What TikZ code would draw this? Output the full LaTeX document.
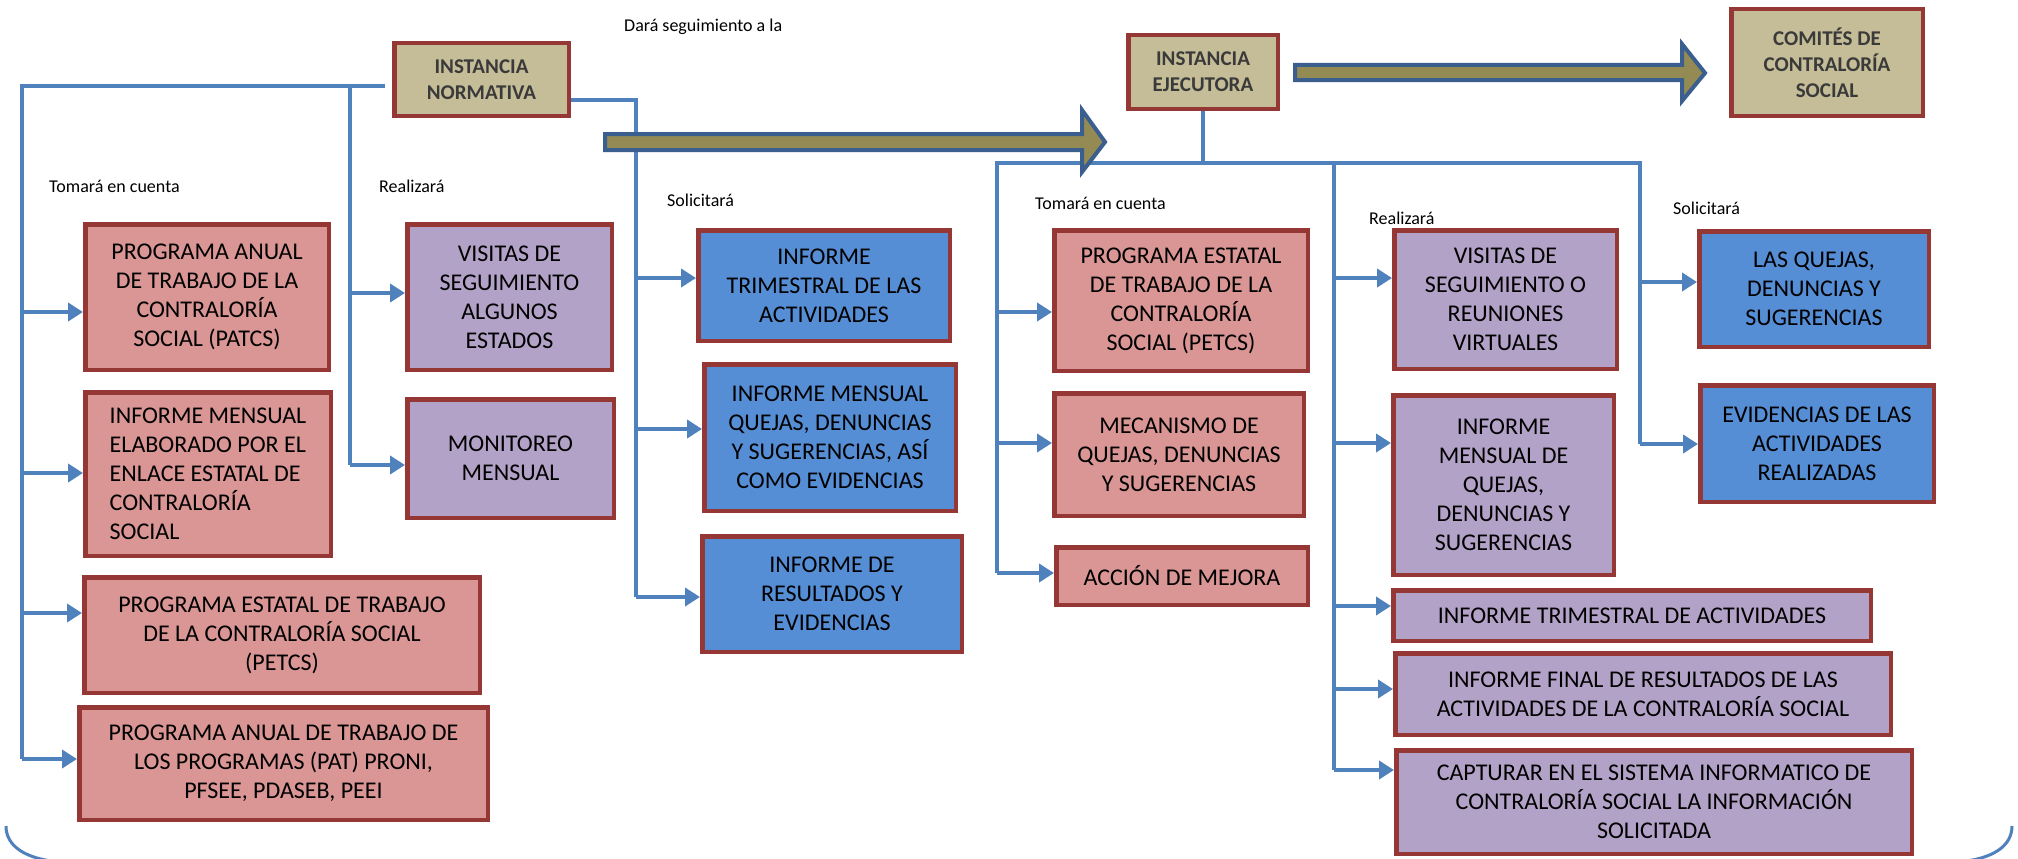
\documentclass[tikz,border=0pt]{standalone}
\usepackage{fontspec}
\setmainfont{Carlito}
\usetikzlibrary{arrows.meta,calc}
\definecolor{bord}{HTML}{943735}
\definecolor{pinkf}{HTML}{D99694}
\definecolor{purf}{HTML}{B3A2C7}
\definecolor{bluef}{HTML}{558ED5}
\definecolor{tanf}{HTML}{C4BD97}
\definecolor{conn}{HTML}{4F81BD}
\definecolor{bigf}{HTML}{948A54}
\definecolor{bigb}{HTML}{3A5F8F}
\definecolor{titletext}{HTML}{3A3A3A}
\newcommand{\bx}[7]{\node[#2,minimum width={(#5-#3-4.5)*1pt},minimum height={(#6-#4-4.5)*1pt}] (#1) at ({(#3+#5)/2},{(#4+#6)/2}) {#7};}
\begin{document}
\begin{tikzpicture}[x=1pt,y=-1pt,
  box/.style={draw=bord,line width=4.5pt,align=center,inner sep=0pt,text=black,font=\fontsize{24}{29}\selectfont},
  pinkbox/.style={box,fill=pinkf},
  purbox/.style={box,fill=purf},
  bluebox/.style={box,fill=bluef},
  titlebox/.style={box,fill=tanf,text=titletext,font=\fontsize{21}{26}\selectfont\bfseries},
  wire/.style={draw=conn,line width=4.5pt},
  feed/.style={wire,-{Triangle[length=15pt,width=18pt]}},
  lbl/.style={anchor=west,inner sep=0pt,font=\fontsize{18}{22}\selectfont},
  bigarrow/.style={fill=bigf,draw=bigb,line width=4pt,line join=miter},
  curl/.style={draw=conn,line width=3pt}
]
\useasboundingbox (0,0) rectangle (2018,859);
\fill[white] (0,0) rectangle (2018,859);

% boxes
\bx{Bnorm}{titlebox}{392}{41}{571}{118}{INSTANCIA\\NORMATIVA}
\bx{Bejec}{titlebox}{1126}{33}{1280}{111}{INSTANCIA\\EJECUTORA}
\bx{Bcom}{titlebox}{1729}{7}{1925}{118}{COMITÉS DE\\CONTRALORÍA\\SOCIAL}
\bx{Bpatcs}{pinkbox}{83}{222}{331}{372}{PROGRAMA ANUAL\\DE TRABAJO DE LA\\CONTRALORÍA\\SOCIAL (PATCS)}
\bx{Benl}{pinkbox,align=left}{83}{390}{333}{558}{INFORME MENSUAL\\ELABORADO POR EL\\ENLACE ESTATAL DE\\CONTRALORÍA\\SOCIAL}
\bx{BpetL}{pinkbox}{82}{575}{482}{695}{PROGRAMA ESTATAL DE TRABAJO\\DE LA CONTRALORÍA SOCIAL\\(PETCS)}
\bx{Bpat}{pinkbox}{77}{705}{490}{822}{PROGRAMA ANUAL DE TRABAJO DE\\LOS PROGRAMAS (PAT) PRONI,\\PFSEE, PDASEB, PEEI}
\bx{Bvis}{purbox}{405}{222}{614}{372}{VISITAS DE\\SEGUIMIENTO\\ALGUNOS\\ESTADOS}
\bx{Bmon}{purbox}{405}{397}{616}{520}{MONITOREO\\MENSUAL}
\bx{Btri}{bluebox}{696}{228}{952}{343}{INFORME\\TRIMESTRAL DE LAS\\ACTIVIDADES}
\bx{Bmq}{bluebox}{702}{362}{958}{513}{INFORME MENSUAL\\QUEJAS, DENUNCIAS\\Y SUGERENCIAS, ASÍ\\COMO EVIDENCIAS}
\bx{Bres}{bluebox}{700}{534}{964}{654}{INFORME DE\\RESULTADOS Y\\EVIDENCIAS}
\bx{BpetR}{pinkbox}{1052}{228}{1310}{373}{PROGRAMA ESTATAL\\DE TRABAJO DE LA\\CONTRALORÍA\\SOCIAL (PETCS)}
\bx{Bmec}{pinkbox}{1052}{391}{1306}{518}{MECANISMO DE\\QUEJAS, DENUNCIAS\\Y SUGERENCIAS}
\bx{Bacc}{pinkbox}{1054}{545}{1310}{607}{ACCIÓN DE MEJORA}
\bx{BvisO}{purbox}{1392}{228}{1619}{371}{VISITAS DE\\SEGUIMIENTO O\\REUNIONES\\VIRTUALES}
\bx{BimQ}{purbox}{1391}{393}{1616}{577}{INFORME\\MENSUAL DE\\QUEJAS,\\DENUNCIAS Y\\SUGERENCIAS}
\bx{BtrA}{purbox}{1391}{588}{1873}{643}{INFORME TRIMESTRAL DE ACTIVIDADES}
\bx{Bfin}{purbox}{1393}{651}{1893}{737}{INFORME FINAL DE RESULTADOS DE LAS\\ACTIVIDADES DE LA CONTRALORÍA SOCIAL}
\bx{Bcap}{purbox}{1394}{748}{1914}{856}{CAPTURAR EN EL SISTEMA INFORMATICO DE\\CONTRALORÍA SOCIAL LA INFORMACIÓN\\SOLICITADA}
\bx{Bque}{bluebox}{1697}{229}{1931}{349}{LAS QUEJAS,\\DENUNCIAS Y\\SUGERENCIAS}
\bx{Bevi}{bluebox}{1698}{383}{1936}{504}{EVIDENCIAS DE LAS\\ACTIVIDADES\\REALIZADAS}

% labels
\node[lbl] (l1) at (624,27) {Dará seguimiento a la};
\node[lbl] (l2) at (49,186) {Tomará en cuenta};
\node[lbl] (l3) at (379,186) {Realizará};
\node[lbl] (l4) at (667,200) {Solicitará};
\node[lbl] (l5) at (1035,203) {Tomará en cuenta};
\node[lbl] (l6) at (1369,218) {Realizará};
\node[lbl] (l7) at (1673,208) {Solicitará};

% coordinates on trunks
\coordinate (a1) at (22,312);
\coordinate (a2) at (22,473);
\coordinate (a3) at (22,613);
\coordinate (a4) at (22,759);
\coordinate (m0) at (350,86);
\coordinate (m1) at (350,293);
\coordinate (m2) at (350,465);
\coordinate (r1) at (636,278);
\coordinate (r2) at (636,429);
\coordinate (r3) at (636,597);
\coordinate (h0) at (997,163);
\coordinate (h1) at (1640,163);
\coordinate (hm) at (1334,163);
\coordinate (e1) at (997,312);
\coordinate (e2) at (997,443);
\coordinate (e3) at (997,573);
\coordinate (g1) at (1334,278);
\coordinate (g2) at (1334,443);
\coordinate (g3) at (1334,606);
\coordinate (g4) at (1334,689);
\coordinate (g5) at (1334,770);
\coordinate (f1) at (1640,282);
\coordinate (f2) at (1640,444);

% trunks
\draw[wire] ([shift={(-7pt,-6.5pt)}]Bnorm.west) -| (a4);
\draw[wire] (m0) -- (m2);
\draw[wire] ([yshift=-20.5pt]Bnorm.east) -| (r3);
\draw[wire] (Bejec.south) -- (Bejec.south |- h0);
\draw[wire] (e3) -- (h0) -- (h1) -- (f2);
\draw[wire] (hm) -- (g5);

% branches
\foreach \c/\b in {a1/Bpatcs,a2/Benl,a3/BpetL,a4/Bpat,m1/Bvis,m2/Bmon,r1/Btri,r2/Bmq,r3/Bres,e1/BpetR,e2/Bmec,e3/Bacc,g1/BvisO,g2/BimQ,g3/BtrA,g4/Bfin,g5/Bcap,f1/Bque,f2/Bevi}
  \draw[feed] (\c) -- (\c -| \b.west);

% big arrows
\draw[bigarrow] (605,134) -- (1082,134) -- (1082,110) -- (1105,142) -- (1082,172) -- (1082,150) -- (605,150) -- cycle;
\draw[bigarrow] (1295,65) -- (1682,65) -- (1682,44) -- (1705,73) -- (1682,101) -- (1682,80) -- (1295,80) -- cycle;

% bottom corner curves
\draw[curl] (6,826) .. controls (6,846) and (25,859) .. (60,862);
\draw[curl] (2012,826) .. controls (2012,846) and (1993,859) .. (1958,862);
\end{tikzpicture}
\end{document}
